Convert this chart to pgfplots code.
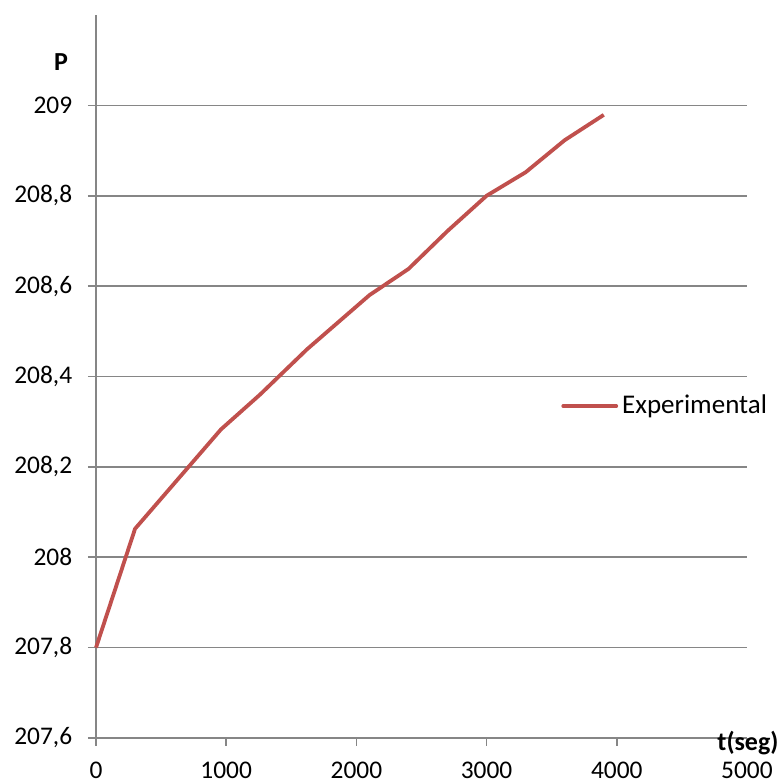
\documentclass[border=0pt]{standalone}
\usepackage{pgfplots}
\pgfplotsset{compat=1.18}
\usepackage{fontspec}
\setmainfont{Carlito}
\definecolor{exred}{HTML}{C0504D}
\definecolor{gridg}{HTML}{868686}
\begin{document}
\fontsize{12.7}{15}\selectfont
\begin{tikzpicture}
\begin{axis}[
  name=ax,
  scale only axis,
  width=325.5pt, height=361.5pt,
  xmin=0, xmax=5000, ymin=207.6, ymax=209.2,
  axis lines*=left,
  axis line style={gridg, line width=0.8pt, -},
  xtick={0,1000,2000,3000,4000,5000},
  ytick={207.6,207.8,208,208.2,208.4,208.6,208.8,209},
  ymajorgrids, major grid style={gridg, line width=0.8pt},
  tick style={gridg, line width=0.8pt},
  tick align=outside,
  major tick length=4pt,
  tick label style={font=\fontsize{12.7}{15}\selectfont},
  /pgf/number format/assume math mode=true,
  /pgf/number format/1000 sep={},
  yticklabel style={xshift=-3.5pt, /pgf/number format/.cd, use comma, fixed, precision=1},
  xticklabel style={yshift=-3.8pt},
  legend style={draw=none, fill=none, at={(rel axis cs:0.705,0.459)}, anchor=west, font=\fontsize{13.5}{15}\selectfont},
  legend image code/.code={\draw[#1, line cap=round] (0pt,0pt) -- (26.5pt,0pt);},
  legend cell align=left,
  clip=false,
]
\addplot[exred, line width=1.9pt, line join=round] coordinates {
(0,207.8) (300,208.063) (960,208.283) (1260,208.36) (1620,208.46) (2100,208.58) (2400,208.638) (2700,208.722) (3000,208.8) (3300,208.852) (3600,208.923) (3900,208.979)
};
\addlegendentry{Experimental}
\node[font=\fontsize{13}{15}\selectfont\bfseries] at ([xshift=-17.5pt, yshift=-1pt]rel axis cs:0,0.938) {P};
\node[font=\fontsize{13}{15}\selectfont\bfseries] at ([xshift=0.5pt,yshift=-2.5pt]rel axis cs:1,0) {t(seg)};
\end{axis}
\pgfresetboundingbox
\path (ax.south west) ++(-48pt,-22.5pt) rectangle ++(390.5pt,391.5pt);
\end{tikzpicture}
\end{document}
